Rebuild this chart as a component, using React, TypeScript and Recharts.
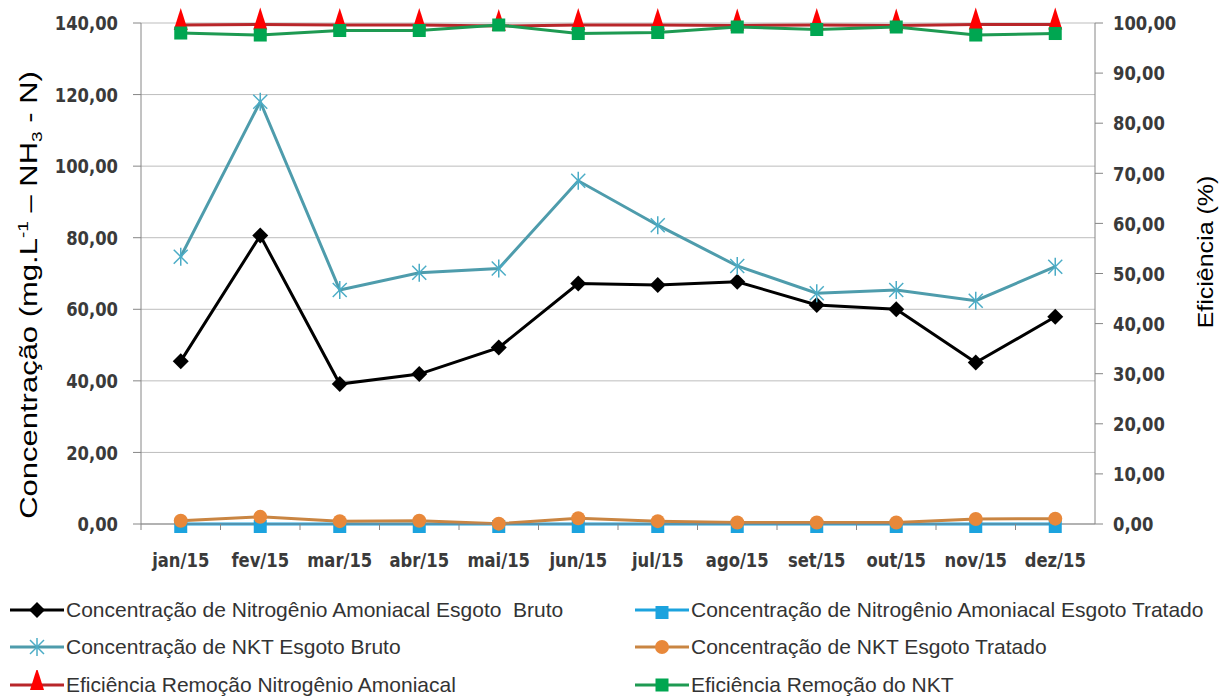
import React from "react"
import { CartesianGrid, Legend, Line, LineChart, XAxis, YAxis } from "recharts"

const months = ["jan/15", "fev/15", "mar/15", "abr/15", "mai/15", "jun/15", "jul/15", "ago/15", "set/15", "out/15", "nov/15", "dez/15"]

const amoniacalBruto = [45.5, 80.6, 39.1, 41.9, 49.3, 67.2, 66.8, 67.7, 61.2, 60.0, 45.1, 57.9]
const amoniacalTratado = [0, 0, 0, 0, 0, 0, 0, 0, 0, 0, 0, 0]
const nktBruto = [74.7, 118.0, 65.4, 70.2, 71.4, 95.9, 83.5, 72.1, 64.5, 65.4, 62.4, 71.9]
const nktTratado = [0.9, 2.0, 0.8, 0.9, 0.1, 1.6, 0.8, 0.4, 0.4, 0.4, 1.4, 1.5]
const eficienciaAmoniacal = [99.6, 99.7, 99.6, 99.6, 99.4, 99.6, 99.6, 99.5, 99.6, 99.5, 99.7, 99.7]
const eficienciaNkt = [98.0, 97.6, 98.5, 98.5, 99.6, 97.9, 98.1, 99.2, 98.7, 99.2, 97.6, 97.9]

const leftTicks = [0, 20, 40, 60, 80, 100, 120, 140]
const rightTicks = [0, 10, 20, 30, 40, 50, 60, 70, 80, 90, 100]

const data = months.map((m, i) => ({
  month: m,
  amoniacalBruto: amoniacalBruto[i],
  amoniacalTratado: amoniacalTratado[i],
  nktBruto: nktBruto[i],
  nktTratado: nktTratado[i],
  eficienciaAmoniacal: eficienciaAmoniacal[i],
  eficienciaNkt: eficienciaNkt[i],
}))

const fmt = (v: number) => v.toFixed(2).replace(".", ",")

// marker shapes, drawn around (0,0)
const markers: Record<string, (c: string) => React.ReactNode> = {
  diamond: (c) => <polygon points="0,-8 8,0 0,8 -8,0" fill={c} />,
  square: (c) => <rect x={-6.5} y={-4} width={13} height={13} fill={c} />,
  star: (c) => (
    <g stroke={c} strokeWidth={1.5}>
      <line x1={-7} y1={-7} x2={7} y2={7} />
      <line x1={-7} y1={7} x2={7} y2={-7} />
      <line x1={0} y1={-9} x2={0} y2={9} />
    </g>
  ),
  circle: (c) => <circle r={7} fill={c} />,
  triangle: (c) => <polygon points="0,-17 7,5 -7,5" fill={c} />,
  greenSquare: (c) => <rect x={-6.5} y={-6.5} width={13} height={13} fill={c} />,
}

const series = [
  { key: "amoniacalBruto", name: "Concentração de Nitrogênio Amoniacal Esgoto  Bruto", axis: "left", stroke: "#000000", fill: "#000000", marker: "diamond" },
  { key: "amoniacalTratado", name: "Concentração de Nitrogênio Amoniacal Esgoto Tratado", axis: "left", stroke: "#1CA3DE", fill: "#1CA3DE", marker: "square" },
  { key: "nktBruto", name: "Concentração de NKT Esgoto Bruto", axis: "left", stroke: "#4E9CAC", fill: "#4BACC6", marker: "star" },
  { key: "nktTratado", name: "Concentração de NKT Esgoto Tratado", axis: "left", stroke: "#C98542", fill: "#E8883A", marker: "circle" },
  { key: "eficienciaAmoniacal", name: "Eficiência Remoção Nitrogênio Amoniacal", axis: "right", stroke: "#B8262A", fill: "#FF0000", marker: "triangle" },
  { key: "eficienciaNkt", name: "Eficiência Remoção do NKT", axis: "right", stroke: "#1E9A52", fill: "#00A651", marker: "greenSquare" },
]

const tickFont = { fontFamily: "DejaVu Sans", fontWeight: 700, fontSize: 20, fill: "#3a3a3a" }
const halfBand = 954 / 12 / 2

function LeftTick(props: any) {
  const { x, y, payload } = props
  return (
    <text transform={`translate(${x},${y}) scale(0.82,1)`} textAnchor="end" dy="0.36em" {...tickFont}>
      {fmt(payload.value)}
    </text>
  )
}

function RightTick(props: any) {
  const { x, y, payload } = props
  return (
    <text transform={`translate(${x},${y}) scale(0.82,1)`} textAnchor="start" dy="0.36em" {...tickFont}>
      {fmt(payload.value)}
    </text>
  )
}

function MonthTick(props: any) {
  const { x, y, payload } = props
  return (
    <g>
      <line x1={x - halfBand} y1={y} x2={x - halfBand} y2={y + 6} stroke="#868686" />
      <text transform={`translate(${x},${y + 43}) scale(0.82,1)`} textAnchor="middle" {...tickFont}>
        {payload.value}
      </text>
    </g>
  )
}

function LegendBox() {
  return (
    <div style={{ position: "relative", width: 1219, height: 110, fontFamily: "Liberation Sans, Arial, sans-serif", fontSize: 21, color: "#333" }}>
      {series.map((s, i) => {
        const col = i % 2
        const row = Math.floor(i / 2)
        return (
          <div key={s.key} style={{ position: "absolute", left: col ? 635 : 10, top: 4 + row * 37.5, height: 37.5, display: "flex", alignItems: "center", whiteSpace: "pre" }}>
            <svg width={54} height={30} style={{ marginRight: 2 }}>
              <line x1={0} y1={15} x2={54} y2={15} stroke={s.stroke} strokeWidth={3} />
              <g transform="translate(27,15)">{markers[s.marker](s.fill)}</g>
            </svg>
            <span>{s.name}</span>
          </div>
        )
      })}
    </div>
  )
}

export default function App() {
  return (
    <div style={{ position: "absolute", left: 0, top: 0, width: 1219, height: 697, background: "#fff" }}>
      <LineChart width={1219} height={697} data={data} margin={{ top: 23, right: 0, left: 0, bottom: 0 }}>
        <CartesianGrid yAxisId="left" vertical={false} stroke="#bdbdbd" />
        <XAxis
          dataKey="month"
          height={63}
          padding={{ left: halfBand, right: halfBand }}
          axisLine={{ stroke: "#868686" }}
          tickLine={false}
          tickSize={0}
          tickMargin={0}
          tick={<MonthTick />}
          interval={0}
        />
        <YAxis
          yAxisId="left"
          domain={[0, 140]}
          ticks={leftTicks}
          width={141}
          axisLine={{ stroke: "#868686" }}
          tickLine={{ stroke: "#868686" }}
          tickSize={8}
          tickMargin={15}
          tick={<LeftTick />}
          label={{
            content: () => (
              <text
                transform="translate(37,295) rotate(-90) scale(1,0.8)"
                textAnchor="middle"
                fontFamily="Liberation Sans, Arial, sans-serif"
                fontSize={31}
                fill="#000"
              >
                Concentração (mg.L
                <tspan dy={-11} fontSize={19}>-1</tspan>
                <tspan dy={11}> – NH</tspan>
                <tspan dy={6} fontSize={19}>3</tspan>
                <tspan dy={-6}> - N)</tspan>
              </text>
            ),
          }}
        />
        <YAxis
          yAxisId="right"
          orientation="right"
          domain={[0, 100]}
          ticks={rightTicks}
          width={124}
          axisLine={{ stroke: "#868686" }}
          tickLine={{ stroke: "#868686" }}
          tickSize={8}
          tickMargin={10}
          tick={<RightTick />}
          label={{
            content: () => (
              <text
                transform="translate(1213,252) rotate(-90) scale(1,0.85)"
                textAnchor="middle"
                fontFamily="Liberation Sans, Arial, sans-serif"
                fontSize={25}
                fill="#000"
              >
                Eficiência (%)
              </text>
            ),
          }}
        />
        {series.map((s) => (
          <Line
            key={s.key}
            yAxisId={s.axis}
            dataKey={s.key}
            name={s.name}
            type="linear"
            stroke={s.stroke}
            strokeWidth={3}
            isAnimationActive={false}
            activeDot={false}
            dot={(p: any) => (
              <g key={`${s.key}-${p.index}`} transform={`translate(${p.cx},${p.cy})`}>
                {markers[s.marker](s.fill)}
              </g>
            )}
          />
        ))}
        <Legend verticalAlign="bottom" height={110} wrapperStyle={{ left: 0, bottom: 0, width: 1219, height: 110 }} content={() => <LegendBox />} />
      </LineChart>
    </div>
  )
}
